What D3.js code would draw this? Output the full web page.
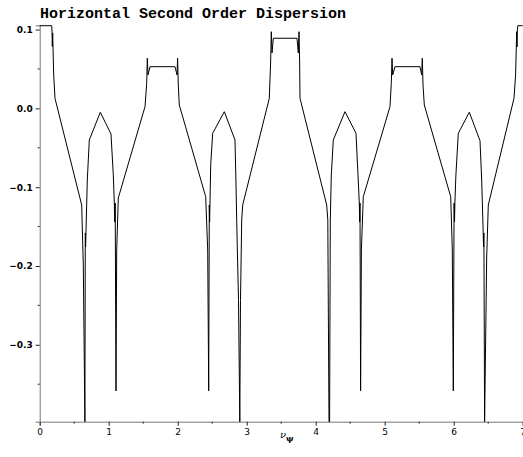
<!DOCTYPE html>
<html>
<head>
<meta charset="utf-8">
<script src="https://cdn.jsdelivr.net/npm/d3@7"></script>
<style>
  body { margin: 0; background: #fff; }
</style>
</head>
<body>
<div id="chart"></div>
<script>
// Data
const nu = [
  0, 0.1739, 0.1783, 0.1826, 0.1884, 0.1928, 0.2029, 0.2217,
  0.6087, 0.6319, 0.6551, 0.6609, 0.6652, 0.6899, 0.7188,
  0.8783, 1.0333, 1.0667, 1.0812, 1.0884, 1.0942, 1.1058, 1.1159, 1.1391,
  1.5261, 1.5507, 1.5594, 1.5696, 1.5986, 1.9609, 1.9899, 1.9986, 2.0087, 2.0232,
  2.4058, 2.4348, 2.4493, 2.4580, 2.4623, 2.4681, 2.4783, 2.5072,
  2.6754, 2.8304, 2.8420, 2.8551, 2.8812, 2.9000, 2.9101, 2.9275, 2.9420,
  3.3275, 3.3478, 3.3565, 3.3667, 3.3855, 3.7290, 3.7478, 3.7580, 3.7667, 3.7725,
  4.1594, 4.1754, 4.1928, 4.2014, 4.2116, 4.2261, 4.2551,
  4.4246, 4.5841, 4.6130, 4.6319, 4.6377, 4.6420, 4.6507, 4.6623, 4.6899,
  5.0768, 5.0957, 5.1058, 5.1159, 5.1493, 5.5116, 5.5362, 5.5449, 5.5551, 5.5739,
  5.9565, 5.9797, 5.9942, 6.0058, 6.0116, 6.0174, 6.0319, 6.0667,
  6.2261, 6.3812, 6.4058, 6.4333, 6.4377, 6.4478, 6.4783, 6.5014,
  6.8739, 6.8971, 6.9072, 6.9130, 6.9174, 6.9217, 6.9290, 7.0
];
const d2 = [
  0.1049, 0.1049, 0.0982, 0.0786, 0.0957, 0.0779, 0.0424, 0.0128,
  -0.1226, -0.1987, -0.3976, -0.1581, -0.1759, -0.0909, -0.0401,
  -0.0049, -0.0325, -0.0845, -0.1201, -0.1442, -0.1201, -0.3586, -0.1797, -0.1137,
  0.0022, 0.0319, 0.0636, 0.0424, 0.0529, 0.0529, 0.0424, 0.0636, 0.0297, 0.0043,
  -0.1121, -0.1797, -0.3586, -0.1226, -0.1442, -0.1201, -0.0718, -0.0316,
  -0.0042, -0.0401, -0.0845, -0.1416, -0.2437, -0.3976, -0.2437, -0.1416, -0.1226,
  0.0128, 0.0614, 0.0973, 0.0703, 0.0890, 0.0890, 0.0703, 0.0973, 0.0614, 0.0128,
  -0.1226, -0.1416, -0.3976, -0.3976, -0.1416, -0.0845, -0.0401,
  -0.0042, -0.0316, -0.0845, -0.1201, -0.1442, -0.1201, -0.3586, -0.1797, -0.1121,
  0.0022, 0.0319, 0.0636, 0.0424, 0.0529, 0.0529, 0.0424, 0.0636, 0.0297, 0.0043,
  -0.1121, -0.1797, -0.3586, -0.1201, -0.1442, -0.1201, -0.0845, -0.0316,
  -0.0049, -0.0410, -0.0909, -0.1759, -0.1581, -0.3976, -0.1886, -0.1226,
  0.0128, 0.0424, 0.0786, 0.0973, 0.0779, 0.0982, 0.1049, 0.1049
];

const xTicks = [0, 1, 2, 3, 4, 5, 6, 7];
const xMinor = [0.5, 1.5, 2.5, 3.5, 4.5, 5.5, 6.5];
const yTicks = [-0.3, -0.2, -0.1, 0.0, 0.1];
const yMinor = [-0.35, -0.25, -0.15, -0.05, 0.05];

const titleText = "Horizontal Second Order Dispersion";

// Dimensions
const width = 523;
const height = 457;
const plotLeft = 39.7;
const plotRight = 522.7;
const plotTop = 25.4;
const plotBottom = 421.7;

var lineColor = "#000";
var axisColor = "#777";

const svg = d3.select("#chart")
  .append("svg")
  .attr("width", width)
  .attr("height", height);

const x = d3.scaleLinear().domain([0, 7]).range([plotLeft, plotRight]);
const y = d3.scaleLinear().domain([-0.3976, 0.1053]).range([plotBottom, plotTop]);

// Title
svg.append("text")
  .attr("x", 40)
  .attr("y", 18)
  .attr("font-family", "Liberation Mono, monospace")
  .attr("font-weight", "bold")
  .attr("font-size", "15px")
  .attr("fill", "#000")
  .text(titleText);

// x axis (the "7" is cut by the right edge, as in the original)
const xAxis = svg.append("g")
  .attr("transform", `translate(0,${plotBottom})`)
  .call(d3.axisBottom(x).tickValues(xTicks).tickSize(4).tickFormat(d3.format("d")));
xAxis.select(".domain").attr("stroke", axisColor);
xAxis.selectAll(".tick line").attr("stroke", "#222");
xAxis.selectAll("text")
  .attr("font-family", "DejaVu Sans, sans-serif")
  .attr("font-size", "9px")
  .attr("fill", "#000");

svg.append("g")
  .selectAll("line")
  .data(xMinor)
  .enter()
  .append("line")
  .attr("x1", d => x(d))
  .attr("x2", d => x(d))
  .attr("y1", plotBottom)
  .attr("y2", plotBottom + 2)
  .attr("stroke", "#222");

// y axis
const yAxis = svg.append("g")
  .attr("transform", `translate(${plotLeft},0)`)
  .call(d3.axisLeft(y).tickValues(yTicks).tickSize(4)
    .tickFormat(d => d3.format(".1f")(d).replace("-", "\u2212")));
yAxis.select(".domain").attr("stroke", axisColor);
yAxis.selectAll(".tick line").attr("stroke", "#222");
yAxis.selectAll("text")
  .attr("font-family", "DejaVu Sans, sans-serif")
  .attr("font-weight", "bold")
  .attr("font-size", "9px")
  .attr("fill", "#000")
  .attr("x", -7);

svg.append("g")
  .selectAll("line")
  .data(yMinor)
  .enter()
  .append("line")
  .attr("x1", plotLeft - 2)
  .attr("x2", plotLeft)
  .attr("y1", d => y(d))
  .attr("y2", d => y(d))
  .attr("stroke", "#222");

// x axis label
const label = svg.append("text")
  .attr("x", 280)
  .attr("y", 438)
  .attr("font-family", "DejaVu Serif, serif")
  .attr("font-size", "10px")
  .attr("fill", "#000");
label.append("tspan").attr("font-style", "italic").text("\u03bd");
label.append("tspan")
  .attr("font-size", "8px")
  .attr("font-weight", "bold")
  .attr("dy", 3)
  .text("\u03c8");

// Curve
const points = nu.map((v, i) => [v, d2[i]]);
const line = d3.line()
  .x(d => x(d[0]))
  .y(d => y(d[1]));

svg.append("path")
  .datum(points)
  .attr("d", line)
  .attr("fill", "none")
  .attr("stroke", lineColor)
  .attr("stroke-width", 1);
</script>
</body>
</html>
